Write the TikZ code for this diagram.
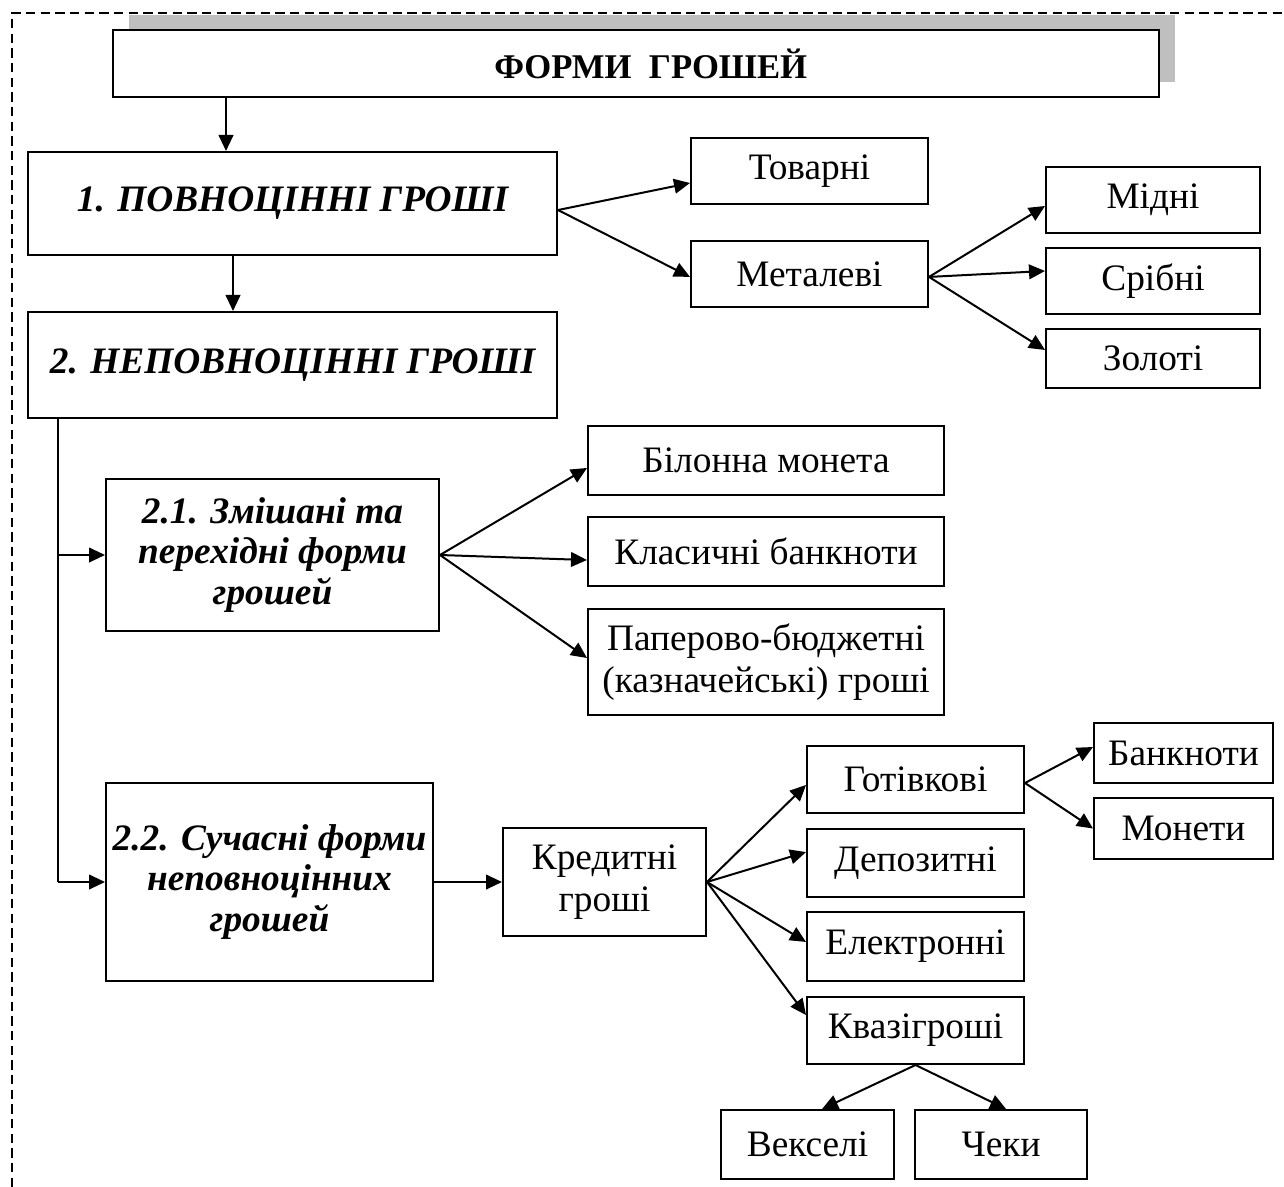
\documentclass[tikz,border=0pt]{standalone}
\usepackage{fontspec}
\setmainfont{Liberation Serif}
\usetikzlibrary{arrows.meta}
\begin{document}
\begin{tikzpicture}[x=0.75pt,y=-0.75pt,
  bx/.style={draw, line width=1.5pt, inner sep=0pt, align=center, fill=white,
    font=\fontsize{28}{31}\selectfont},
  bxi/.style={bx, font=\fontsize{28}{30.5}\selectfont\bfseries\itshape},
  arr/.style={line width=1.5pt, -{Triangle[length=12pt,width=11pt]}},
  ln/.style={line width=1.5pt},
  frameln/.style={line width=1.5pt, dash pattern=on 7pt off 4pt}]
\useasboundingbox (0,0) rectangle (1284,1187);
% dashed frame (left and top)
\draw[frameln] (12,1187) -- (12,13) -- (1284,13);
% shadow of title
\fill[black!25] (129,15) rectangle (1175,82);
% title
\node[bx, minimum width=784.5pt, minimum height=50.25pt, font=\fontsize{26}{30}\selectfont\bfseries] (title) at (636,63.5) {\hspace*{22pt}ФОРМИ\ \ ГРОШЕЙ};
% level 1
\node[bxi, minimum width=396.75pt, minimum height=77.25pt] (full) at (292.5,203.5) {1. ПОВНОЦІННІ ГРОШІ};
\node[bxi, minimum width=396.75pt, minimum height=79.5pt] (notfull) at (292.5,365) {2. НЕПОВНОЦІННІ ГРОШІ};
\node[bx, minimum width=177.75pt, minimum height=49.5pt] (tov) at (809.5,171) {Товарні};
\node[bx, minimum width=177.75pt, minimum height=49.5pt] (met) at (809.5,274) {Металеві};
\node[bx, minimum width=160.5pt, minimum height=49.5pt] (mid) at (1153,200) {Мідні};
\node[bx, minimum width=160.5pt, minimum height=49.5pt] (srib) at (1153,281) {Срібні};
\node[bx, minimum width=160.5pt, minimum height=44.25pt] (zol) at (1153,358.5) {Золоті};
% 2.1
\node[bxi, minimum width=249.75pt, minimum height=114pt] (mixed) at (272.5,555) {2.1. Змішані та\\перехідні форми\\грошей};
\node[bx, minimum width=267pt, minimum height=51.75pt] (bilon) at (766,460.5) {Білонна монета};
\node[bx, minimum width=267pt, minimum height=51.75pt] (klas) at (766,551.5) {Класичні банкноти};
\node[bx, minimum width=267pt, minimum height=79.5pt] (paper) at (766,662) {Паперово-бюджетні\\(казначейські) гроші};
% 2.2
\node[bxi, minimum width=245.25pt, minimum height=148.5pt] (modern) at (269.5,882) {2.2. Сучасні форми\\неповноцінних\\грошей};
\node[bx, minimum width=152.25pt, minimum height=81pt] (cred) at (604.5,882) {Кредитні\\гроші};
\node[bx, minimum width=162.75pt, minimum height=50.25pt] (cash) at (915.5,779.5) {Готівкові};
\node[bx, minimum width=162.75pt, minimum height=51pt] (dep) at (915.5,863) {Депозитні};
\node[bx, minimum width=162.75pt, minimum height=51.75pt] (el) at (915.5,946.5) {Електронні};
\node[bx, minimum width=162.75pt, minimum height=50.25pt] (quasi) at (915.5,1030.5) {Квазігроші};
\node[bx, minimum width=134.25pt, minimum height=45pt] (bank) at (1183.5,753) {Банкноти};
\node[bx, minimum width=134.25pt, minimum height=45.75pt] (mon) at (1183.5,828.5) {Монети};
\node[bx, minimum width=129.75pt, minimum height=51.75pt] (veks) at (807.5,1144.5) {Векселі};
\node[bx, minimum width=129pt, minimum height=51.75pt] (cheq) at (1001,1144.5) {Чеки};
% helper coordinates
\coordinate (cx1) at (226,0);
\coordinate (cx2) at (233,0);
\coordinate (vx) at (58,0);
% connectors
\draw[arr] (title.south -| cx1) -- (full.north -| cx1);
\draw[arr] (full.south -| cx2) -- (notfull.north -| cx2);
\draw[arr] ([yshift=-4.9pt]full.east) -- ([yshift=-9pt]tov.west);
\draw[arr] ([yshift=-4.9pt]full.east) -- ([yshift=-2.2pt]met.west);
\draw[arr] ([yshift=-2.2pt]met.east) -- ([yshift=-4.5pt]mid.west);
\draw[arr] ([yshift=-2.2pt]met.east) -- ([yshift=7.5pt]srib.west);
\draw[arr] ([yshift=-2.2pt]met.east) -- ([yshift=6.4pt]zol.west);
\draw[ln] (notfull.south -| vx) -- (modern.west -| vx);
\draw[arr] (mixed.west -| vx) -- (mixed.west);
\draw[arr] (modern.west -| vx) -- (modern.west);
\draw[arr] (mixed.east) -- ([yshift=-5.6pt]bilon.west);
\draw[arr] (mixed.east) -- ([yshift=-6.4pt]klas.west);
\draw[arr] (mixed.east) -- ([yshift=3pt]paper.west);
\draw[arr] (modern.east) -- (cred.west);
\draw[arr] (cred.east) -- ([yshift=-4.1pt]cash.west);
\draw[arr] (cred.east) -- ([yshift=8.2pt]dep.west);
\draw[arr] (cred.east) -- ([yshift=3.4pt]el.west);
\draw[arr] (cred.east) -- ([yshift=11.6pt]quasi.west);
\draw[arr] ([yshift=-2.6pt]cash.east) -- ([yshift=4.5pt]bank.west);
\draw[arr] ([yshift=-2.6pt]cash.east) -- (mon.west);
\draw[arr] (quasi.south) -- ([xshift=10.9pt]veks.north);
\draw[arr] (quasi.south) -- ([xshift=3.8pt]cheq.north);
\end{tikzpicture}
\end{document}
